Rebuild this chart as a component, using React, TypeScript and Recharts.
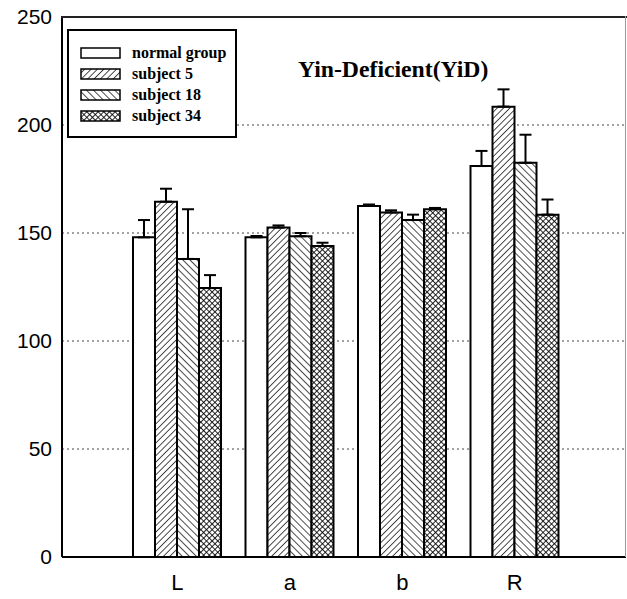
import { BarChart, Bar, XAxis, YAxis, CartesianGrid, ErrorBar } from 'recharts'

const categories = ['L', 'a', 'b', 'R']
const seriesNames = ['normal group', 'subject 5', 'subject 18', 'subject 34']
const normalGroup = [148, 148, 162.5, 181]
const subject5 = [164.5, 152.5, 159.5, 208.5]
const subject18 = [138, 148.5, 156, 182.5]
const subject34 = [124.5, 144, 161, 158.5]
const normalErr = [8, 0.6, 0.7, 7]
const subject5Err = [6, 1, 1, 8]
const subject18Err = [23, 1.5, 2.5, 13]
const subject34Err = [6, 1.5, 0.6, 7]
const yTicks = [0, 50, 100, 150, 200, 250]

const data = categories.map((name, i) => ({
  name,
  normal: normalGroup[i],
  s5: subject5[i],
  s18: subject18[i],
  s34: subject34[i],
  eNormal: [0, normalErr[i]],
  e5: [0, subject5Err[i]],
  e18: [0, subject18Err[i]],
  e34: [0, subject34Err[i]],
}))

const fills = ['#fff', 'url(#pat5)', 'url(#pat18)', 'url(#pat34)']
const legendFills = ['#fff', 'url(#lpat5)', 'url(#lpat18)', 'url(#lpat34)']
const errKeys = ['eNormal', 'e5', 'e18', 'e34']
const barKeys = ['normal', 's5', 's18', 's34']

function Patterns({ prefix }: { prefix: string }) {
  return (
    <defs>
      <pattern id={`${prefix}5`} width="4.5" height="4.5" patternUnits="userSpaceOnUse" patternTransform="rotate(45)">
        <rect width="4.5" height="4.5" fill="#fff" />
        <line x1="0" y1="0" x2="0" y2="4.5" stroke="#000" strokeWidth="1.4" />
      </pattern>
      <pattern id={`${prefix}18`} width="5" height="5" patternUnits="userSpaceOnUse" patternTransform="rotate(-45)">
        <rect width="5" height="5" fill="#fff" />
        <line x1="0" y1="0" x2="0" y2="5" stroke="#000" strokeWidth="1.4" />
      </pattern>
      <pattern id={`${prefix}34`} width="4" height="4" patternUnits="userSpaceOnUse" patternTransform="rotate(45)">
        <rect width="4" height="4" fill="#fff" />
        <line x1="0" y1="0" x2="0" y2="4" stroke="#000" strokeWidth="1.7" />
        <line x1="0" y1="0" x2="4" y2="0" stroke="#000" strokeWidth="1.7" />
      </pattern>
    </defs>
  )
}

const serif = 'Liberation Serif, Times New Roman, serif'
const sans = 'Liberation Sans, Arial, sans-serif'

export default function App() {
  return (
    <div style={{ position: 'absolute', left: 0, top: 0, width: 627, height: 599, background: '#fff' }}>
      <BarChart
        width={627}
        height={599}
        data={data}
        margin={{ top: 17, right: 1, left: 0, bottom: 0 }}
        barSize={22}
        barGap={0}
      >
        <Patterns prefix="pat" />
        <CartesianGrid vertical={false} stroke="#444" strokeDasharray="2 3" />
        <XAxis
          dataKey="name"
          height={42}
          padding={{ left: 59, right: 55 }}
          tickLine={false}
          axisLine={{ stroke: '#000', strokeWidth: 2 }}
          tickMargin={11}
          tick={{ fill: '#000', fontSize: 22, fontFamily: sans }}
        />
        <YAxis
          width={62}
          domain={[0, 250]}
          ticks={yTicks}
          tickLine={false}
          axisLine={{ stroke: '#000', strokeWidth: 2 }}
          tickMargin={4}
          tick={{ fill: '#000', fontSize: 21, fontFamily: sans }}
        />
        {barKeys.map((k, i) => (
          <Bar key={k} dataKey={k} name={seriesNames[i]} fill={fills[i]} stroke="#000" strokeWidth={2} isAnimationActive={false}>
            <ErrorBar dataKey={errKeys[i]} direction="y" width={6} stroke="#000" strokeWidth={2} />
          </Bar>
        ))}
      </BarChart>
      {/* top and right frame of the plot box */}
      <div style={{ position: 'absolute', left: 61, top: 16, width: 566, height: 2, background: '#222' }} />
      <div style={{ position: 'absolute', left: 625, top: 16, width: 1, height: 541, background: '#999' }} />
      <svg width={170} height={109} style={{ position: 'absolute', left: 67, top: 29 }}>
        <Patterns prefix="lpat" />
        <rect x={1} y={1} width={168} height={107} fill="#fff" stroke="#000" strokeWidth={2} />
        {seriesNames.map((n, i) => (
          <g key={n}>
            <rect x={14} y={19 + i * 21} width={39} height={10} fill={legendFills[i]} stroke="#000" strokeWidth={1.5} />
            <text x={65} y={29 + i * 21} fontSize={16} fontWeight="bold" fontFamily={serif} fill="#000">
              {n}
            </text>
          </g>
        ))}
      </svg>
      <div
        style={{
          position: 'absolute',
          left: 298,
          top: 56,
          fontSize: 23.7,
          fontWeight: 'bold',
          fontFamily: serif,
          color: '#000',
          whiteSpace: 'nowrap',
        }}
      >
        Yin-Deficient(YiD)
      </div>
    </div>
  )
}
